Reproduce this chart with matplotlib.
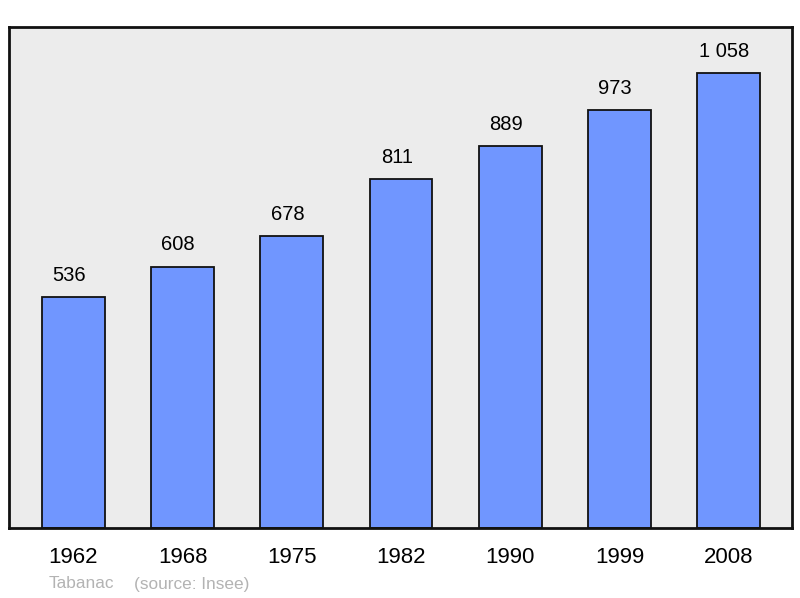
import matplotlib.pyplot as plt

plt.rcParams['font.family'] = ['Liberation Sans', 'DejaVu Sans']

# population data
years = ['1962', '1968', '1975', '1982', '1990', '1999', '2008']
population = [536, 608, 678, 811, 889, 973, 1058]
value_labels = ['536', '608', '678', '811', '889', '973', '1 058']
commune = 'Tabanac'
source = '(source: Insee)'

W, H = 800, 598
fig = plt.figure(figsize=(W / 100, H / 100), dpi=100)
ax = fig.add_axes([9 / W, 1 - 528 / H, (792 - 9) / W, (528 - 27) / H])
ax.set_facecolor('#ececec')

x = list(range(len(years)))
ax.bar(x, population, width=0.576, color='#7096ff', edgecolor='#111111',
       linewidth=1.3, zorder=2)

for xi, v, lab in zip(x, population, value_labels):
    ax.text(xi - 0.04, v + 28, lab, ha='center', va='bottom', fontsize=14.5, color='black')

ax.set_xlim(-0.59, 6.58)
ax.set_ylim(0, 1165)
ax.set_yticks([])
ax.set_xticks(x)
ax.set_xticklabels(years, fontsize=16)
ax.tick_params(axis='x', length=0, pad=14)
for s in ax.spines.values():
    s.set_linewidth(2)
    s.set_color('#111111')

fig.text(49 / W, 1 - 584 / H, commune, fontsize=12.4, color='#b3b3b3', va='center')
fig.text(134 / W, 1 - 584 / H, source, fontsize=12.4, color='#b3b3b3', va='center')

fig.savefig('out.png', dpi=100)
